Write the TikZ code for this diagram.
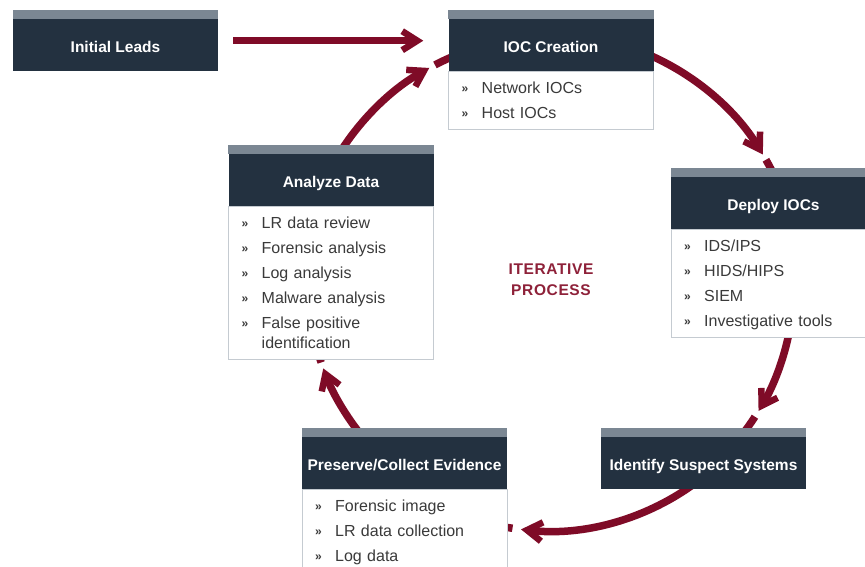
\documentclass[tikz,border=0pt]{standalone}
\usepackage{fontspec}
\setmainfont{Liberation Sans}
\usetikzlibrary{arrows.meta,calc}

\definecolor{navy}{HTML}{233140}
\definecolor{stripgray}{HTML}{7B8793}
\definecolor{rimgray}{HTML}{C5CBD1}
\definecolor{maroon}{HTML}{7F0B27}
\definecolor{bodytext}{HTML}{3A3A3A}
\definecolor{cyclered}{HTML}{8E2139}

% list helpers: bullet column, strut for the first baseline, strut for the bottom margin
\newcommand\bul{\makebox[20pt][l]{\fontsize{12}{12}\selectfont\raisebox{1pt}{\textbf{»}}}}
\newcommand\firstline{\rule{0pt}{22pt}}
\newcommand\lastline{\rule[-11pt]{0pt}{11pt}}
% grey band on top of a heading box
\newcommand\headband[1]{\fill[stripgray] (#1.north west) rectangle ([yshift=9pt]#1.north east);}

\tikzset{
  head/.style={fill=navy, text=white, font=\fontsize{15.5}{18}\selectfont\bfseries,
    minimum width=205pt, minimum height=52pt, inner sep=0pt,
    text height=14pt, text depth=0pt, anchor=north},
  body/.style={draw=rimgray, line width=0.8pt, fill=white, text=bodytext,
    font=\fontsize{16}{20}\selectfont, text width=179pt, inner xsep=13pt,
    inner ysep=0pt, align=left, anchor=north west},
  flow/.style={draw=maroon, line width=7.5pt,
    -{Straight Barb[length=15pt,width=19pt,line width=6.5pt,sharp]}},
  stub/.style={draw=maroon, line width=7.5pt, line cap=butt},
}

\begin{document}
\begin{tikzpicture}[x=1pt,y=1pt]
\useasboundingbox (0,0) rectangle (865,566);
\fill[white] (0,0) rectangle (865,566);
\clip (0,0) rectangle (865,566);

% centre of the iterative cycle
\coordinate (O) at (549,282);

% cycle arrows, each followed by a short stub reaching the next box
\coordinate (a1) at ($(O)+(66:250)$);
\coordinate (s1) at ($(O)+(29.8:250)$);
\draw[flow] (a1) arc[start angle=66, end angle=31.2, radius=250];
\draw[stub] (s1) arc[start angle=29.8, end angle=26.5, radius=250];

\coordinate (a2) at ($(O)+(-11:245)$);
\coordinate (s2) at ($(O)+(-32.8:245)$);
\draw[flow] (a2) arc[start angle=-11, end angle=-31.2, radius=245];
\draw[stub] (s2) arc[start angle=-32.8, end angle=-37, radius=245];

\coordinate (a3) at ($(O)+(-54.5:247)$);
\coordinate (s3) at ($(O)+(-98.5:247)$);
\draw[flow] (a3) arc[start angle=-54.5, end angle=-96.5, radius=247];
\draw[stub] (s3) arc[start angle=-98.5, end angle=-101.5, radius=247];

\coordinate (a4) at ($(O)+(-142:241)$);
\coordinate (s4) at ($(O)+(-161:241)$);
\draw[flow] (a4) arc[start angle=-142, end angle=-159.5, radius=241];
\draw[stub] (s4) arc[start angle=-161, end angle=-164, radius=241];

\coordinate (a5) at ($(O)+(147:247)$);
\coordinate (s5) at ($(O)+(117.5:247)$);
\draw[flow] (a5) arc[start angle=147, end angle=119, radius=247];
\draw[stub] (s5) arc[start angle=117.5, end angle=113.5, radius=247];

% boxes
\node[head] (leads) at (115.5,547) {Initial Leads};
\headband{leads}

\node[head] (ioc) at (551,547) {IOC Creation};
\headband{ioc}
\node[body] (iocb) at (ioc.south west)
  {\noindent\firstline\bul Network IOCs\\[5pt]\bul Host IOCs\lastline};

\node[head] (deploy) at (773.5,389) {Deploy IOCs};
\headband{deploy}
\node[body] (deployb) at (deploy.south west)
  {\noindent\firstline\bul IDS/IPS\\[5pt]\bul HIDS/HIPS\\[5pt]\bul SIEM\\[5pt]\bul Investigative tools\lastline};

\node[head] (identify) at (703.5,129) {Identify Suspect Systems};
\headband{identify}

\node[head] (preserve) at (404.5,129) {Preserve/Collect Evidence};
\headband{preserve}
\node[body] (preserveb) at (preserve.south west)
  {\noindent\firstline\bul Forensic image\\[5pt]\bul LR data collection\\[5pt]\bul Log data\lastline};

\node[head] (analyze) at (331,412) {Analyze Data};
\headband{analyze}
\node[body] (analyzeb) at (analyze.south west)
  {\noindent\firstline\bul LR data review\\[5pt]\bul Forensic analysis\\[5pt]\bul Log analysis\\[5pt]\bul Malware analysis\\[5pt]\bul False positive\\\hspace*{20pt}identification\lastline};

% lead-in arrow
\draw[flow] ([shift={(15,4.5)}]leads.east) -- ([shift={(-25,4.5)}]ioc.west);

% centre label
\node[text=cyclered, align=center, font=\fontsize{15.5}{21}\selectfont\bfseries\addfontfeature{LetterSpace=4}]
  (label) at (551,286) {ITERATIVE\\PROCESS};
\end{tikzpicture}
\end{document}
